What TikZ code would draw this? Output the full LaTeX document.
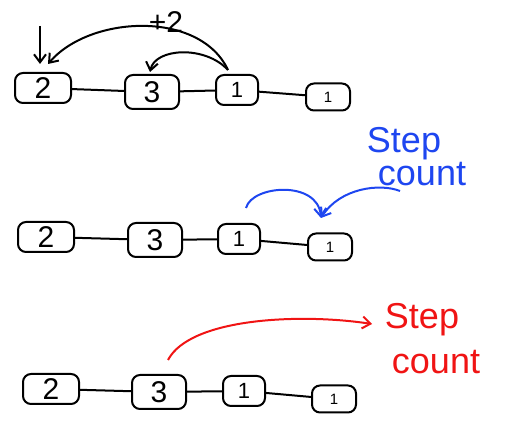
\documentclass[tikz,border=0pt]{standalone}
\usepackage{fontspec}
\setmainfont{Liberation Sans}
\usetikzlibrary{arrows.meta}
\definecolor{penblue}{RGB}{30,70,240}
\definecolor{penred}{RGB}{240,20,20}
\tikzset{
  box/.style={draw, line width=2pt, rounded corners=8pt, minimum width=#1, minimum height=30pt, inner sep=0pt, font=\fontsize{30}{30}\selectfont},
  box/.default=54pt,
  link/.style={line width=2pt},
  pen/.style={line width=2pt, -{Straight Barb[length=8pt,width=12pt]}},
  note/.style={font=\fontsize{36}{36}\selectfont, align=left}
}
\begin{document}
\begin{tikzpicture}[x=1pt,y=-1pt]
\useasboundingbox (0,0) rectangle (509,430);
% row 1
\node[box=56pt] (a1) at (43,88) {2};
\node[box=54pt, minimum height=34pt] (a2) at (152,92) {3};
\node[box=42pt, minimum height=30pt, font=\fontsize{22}{22}\selectfont] (a3) at (237,90) {1};
\node[box=44pt, minimum height=27pt, font=\fontsize{15}{15}\selectfont] (a4) at (328,97) {1};
\draw[link] (a1) -- (a2);
\draw[link] (a2) -- (a3);
\draw[link] (a3) -- (a4);
\coordinate (t0) at (228,70);
\coordinate (t1) at (48,64);
\coordinate (t2) at (150,72);
\coordinate (d0) at (40,26);
\coordinate (d1) at (40,64);
\draw[pen] (t0) .. controls (200,10) and (90,15) .. (t1);
\draw[pen] (t0) .. controls (205,45) and (155,48) .. (t2);
\draw[pen] (d0) -- (d1);
\node[font=\fontsize{30}{30}\selectfont] (plus) at (166,22) {+2};
% row 2
\node[box=56pt] (b1) at (46,237) {2};
\node[box=54pt, minimum height=34pt] (b2) at (155,240) {3};
\node[box=42pt, minimum height=30pt, font=\fontsize{22}{22}\selectfont] (b3) at (239,239) {1};
\node[box=44pt, minimum height=27pt, font=\fontsize{15}{15}\selectfont] (b4) at (330,247) {1};
\draw[link] (b1) -- (b2);
\draw[link] (b2) -- (b3);
\draw[link] (b3) -- (b4);
\node[note, text=penblue] (s2) at (404,144) {Step};
\node[note, text=penblue] (c2) at (422,174) {count};
\coordinate (u0) at (246,208);
\coordinate (u1) at (321,218);
\coordinate (u2) at (400,191);
\draw[pen, penblue] (u0) .. controls (252,185) and (318,180) .. (u1);
\draw[pen, penblue] (u2) .. controls (380,183) and (340,188) .. (u1);
% row 3
\node[box=56pt] (c1) at (51,389) {2};
\node[box=54pt, minimum height=34pt] (c2b) at (159,392) {3};
\node[box=42pt, minimum height=30pt, font=\fontsize{22}{22}\selectfont] (c3) at (244,391) {1};
\node[box=44pt, minimum height=27pt, font=\fontsize{15}{15}\selectfont] (c4) at (334,399) {1};
\draw[link] (c1) -- (c2b);
\draw[link] (c2b) -- (c3);
\draw[link] (c3) -- (c4);
\node[note, text=penred] (s3) at (422,320) {Step};
\node[note, text=penred] (c3t) at (436,362) {count};
\coordinate (r0) at (168,360);
\coordinate (r1) at (372,324);
\draw[pen, penred] (r0) .. controls (190,318) and (300,313) .. (r1);
\end{tikzpicture}
\end{document}
